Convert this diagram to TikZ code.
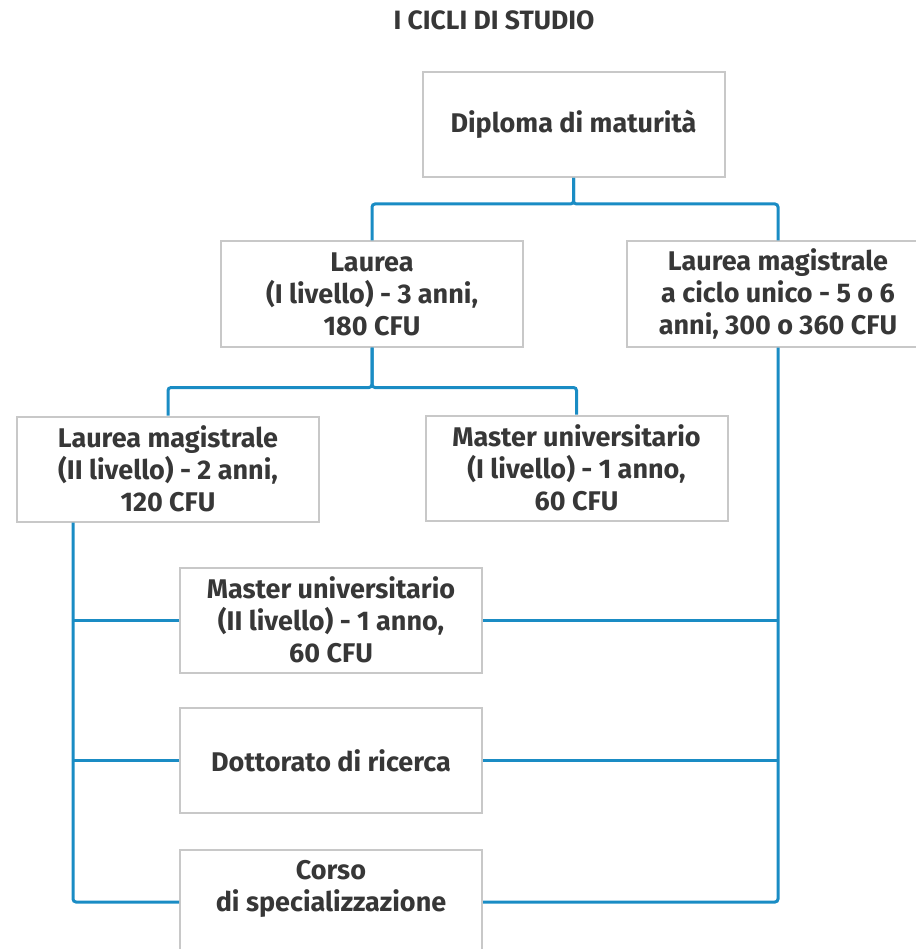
\documentclass[tikz,border=0pt]{standalone}
\usepackage{fontspec}
\setmainfont{Fira Sans}
\definecolor{linea}{RGB}{26,140,196}
\definecolor{bordo}{RGB}{200,200,200}
\definecolor{testo}{RGB}{55,55,55}
\tikzset{
  ciclo/.style={draw=bordo, line width=2pt, fill=white, align=center,
    minimum width=302pt, minimum height=105pt, inner sep=0pt,
    text=testo, font=\fontsize{27}{32}\selectfont\bfseries},
  ramo/.style={draw=linea, line width=3pt, rounded corners=3pt}
}
\begin{document}
\begin{tikzpicture}[x=1pt,y=-1pt]
		%Rahmen
		\useasboundingbox (0,0) rectangle (915,949);
		\node[text=testo, font=\fontsize{26.5}{28}\selectfont\bfseries] (titolo) at (494,20) {I CICLI DI STUDIO};

		%Kaestchen
		\node[ciclo] (dipl) at (573.5,124.5) {Diploma di maturit\`a};
		\node[ciclo] (laurea) at (372,294) {Laurea\\(I livello) - 3 anni,\\180 CFU};
		\node[ciclo] (lmcu) at (778,294) {Laurea magistrale\\a ciclo unico - 5 o 6\\anni, 300 o 360 CFU};
		\node[ciclo] (lmII) at (168,469) {Laurea magistrale\\(II livello) - 2 anni,\\120 CFU};
		\node[ciclo] (mastI) at (576.5,468) {Master universitario\\(I livello) - 1 anno,\\60 CFU};
		\node[ciclo] (mastII) at (331,620) {Master universitario\\(II livello) - 1 anno,\\60 CFU};
		\node[ciclo] (dott) at (331,760.5) {Dottorato di ricerca};
		\node[ciclo] (corso) at (331,902) {Corso\\di specializzazione\\\mbox{}};
		\coordinate (sx) at (73,0);

		%Verbindungen
		\draw[ramo] (dipl.south) -- ++(0,26) -| (laurea.north);
		\draw[ramo] (dipl.south) -- ++(0,26) -| (lmcu.north);
		\draw[ramo] (laurea.south) -- ++(0,40) -| (lmII.north);
		\draw[ramo] (laurea.south) -- ++(0,40) -| (mastI.north);
		\draw[ramo] (lmII.south -| sx) |- (corso.west);
		\draw[ramo] (lmcu.south) |- (corso.east);
		\foreach \n in {mastII,dott}{
			\draw[ramo] (sx |- \n.west) -- (\n.west);
			\draw[ramo] (lmcu.south |- \n.east) -- (\n.east);
		}
	\end{tikzpicture}
\end{document}
